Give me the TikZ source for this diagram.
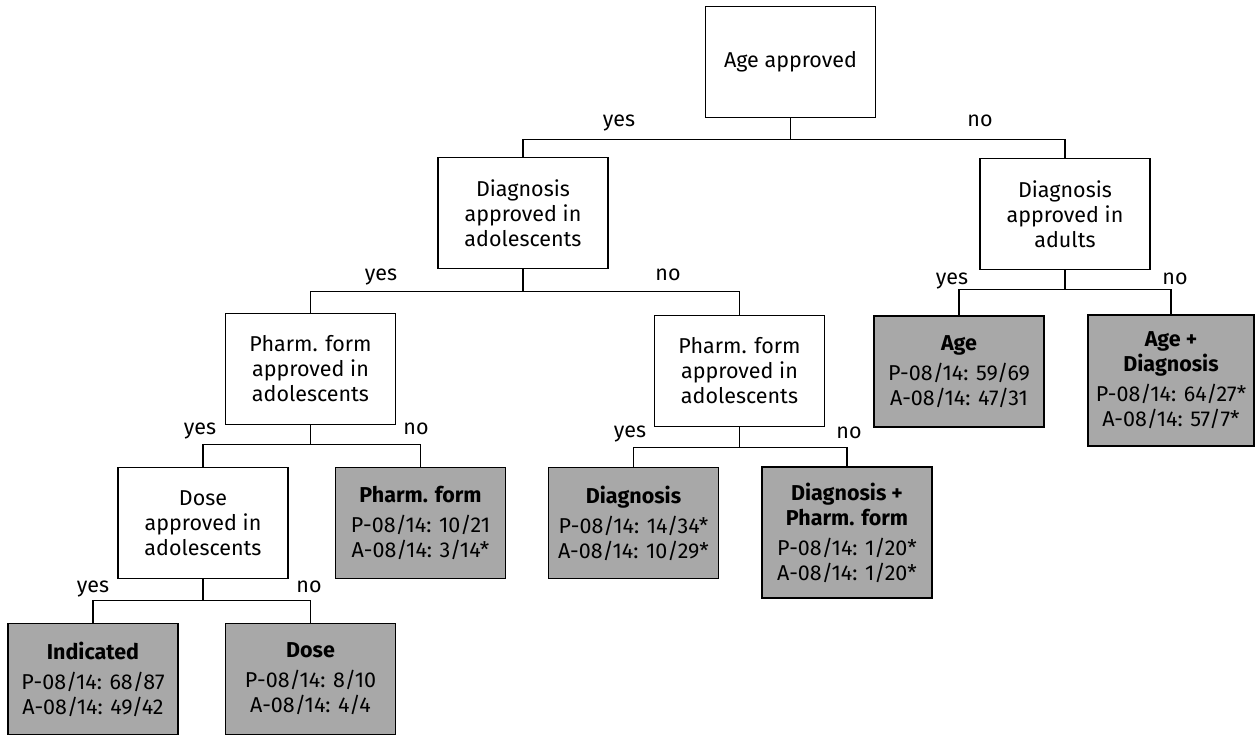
\documentclass[tikz,border=0pt]{standalone}
\usepackage{fontspec}
\setmainfont{Fira Sans}
\begin{document}
\begin{tikzpicture}[x=1pt,y=-1pt,line width=1.6pt,
    every node/.style={font=\fontsize{21.5}{25}\selectfont},
    qbox/.style={draw,fill=white,align=center,minimum width=170pt,
                 minimum height=111pt,inner sep=0pt},
    leaf/.style={qbox,fill=black!34},
    tall/.style={minimum height=131pt},
    lbl/.style={inner sep=0pt,anchor=base}]
    \useasboundingbox (0,0) rectangle (1255,737);

    \node[qbox] (age)       at (790.5,62)  {Age approved};
    \node[qbox] (diagAdol)  at (523,213)   {Diagnosis\\approved in\\adolescents};
    \node[qbox] (diagAdult) at (1065,214)  {Diagnosis\\approved in\\adults};
    \node[qbox] (formYes)   at (310.5,369) {Pharm. form\\approved in\\adolescents};
    \node[qbox] (formNo)    at (739.5,371) {Pharm. form\\approved in\\adolescents};
    \node[qbox] (dose)      at (203,523)   {Dose\\approved in\\adolescents};

    \node[leaf] (indicated) at (93,679)
        {\textbf{Indicated}\\[5pt]P-08/14: 68/87\\A-08/14: 49/42};
    \node[leaf] (doseLeaf)  at (310.5,679)
        {\textbf{Dose}\\[5pt]P-08/14: 8/10\\A-08/14: 4/4};
    \node[leaf] (formLeaf)  at (420.5,523)
        {\textbf{Pharm. form}\\[5pt]P-08/14: 10/21\\A-08/14: 3/14*};
    \node[leaf] (diagLeaf)  at (633.5,523)
        {\textbf{Diagnosis}\\[5pt]P-08/14: 14/34*\\A-08/14: 10/29*};
    \node[leaf,tall] (diagFormLeaf) at (847,532.5)
        {\textbf{Diagnosis +}\\\textbf{Pharm. form}\\[5pt]P-08/14: 1/20*\\A-08/14: 1/20*};
    \node[leaf] (ageLeaf)   at (959,371.5)
        {\textbf{Age}\\[5pt]P-08/14: 59/69\\A-08/14: 47/31};
    \node[leaf,tall,minimum width=166pt] (ageDiagLeaf) at (1171,380.5)
        {\textbf{Age +}\\\textbf{Diagnosis}\\[5pt]P-08/14: 64/27*\\A-08/14: 57/7*};

    \draw (age.south) -- ++(0,21) -| (diagAdol.north);
    \draw (age.south) -- ++(0,21) -| (diagAdult.north);
    \draw (diagAdol.south) -- ++(0,22) -| (formYes.north);
    \draw (diagAdol.south) -- ++(0,22) -| (formNo.north);
    \draw (diagAdult.south) -- ++(0,19) -| (ageLeaf.north);
    \draw (diagAdult.south) -- ++(0,19) -| (ageDiagLeaf.north);
    \draw (formYes.south) -- ++(0,19) -| (dose.north);
    \draw (formYes.south) -- ++(0,19) -| (formLeaf.north);
    \draw (formNo.south) -- ++(0,20) -| (diagLeaf.north);
    \draw (formNo.south) -- ++(0,20) -| (diagFormLeaf.north);
    \draw (dose.south) -- ++(0,21) -| (indicated.north);
    \draw (dose.south) -- ++(0,21) -| (doseLeaf.north);

    \node[lbl] (yesAge)   at (619,126) {yes};
    \node[lbl] (noAge)    at (980,126) {no};
    \node[lbl] (yesDiagA) at (381,280) {yes};
    \node[lbl] (noDiagA)  at (668,280) {no};
    \node[lbl] (yesDiagB) at (952,284) {yes};
    \node[lbl] (noDiagB)  at (1175,284) {no};
    \node[lbl] (yesFormA) at (200,434) {yes};
    \node[lbl] (noFormA)  at (416,434) {no};
    \node[lbl] (yesFormB) at (630,437) {yes};
    \node[lbl] (noFormB)  at (849,438) {no};
    \node[lbl] (yesDose)  at (93,592)  {yes};
    \node[lbl] (noDose)   at (309,592) {no};
\end{tikzpicture}
\end{document}
